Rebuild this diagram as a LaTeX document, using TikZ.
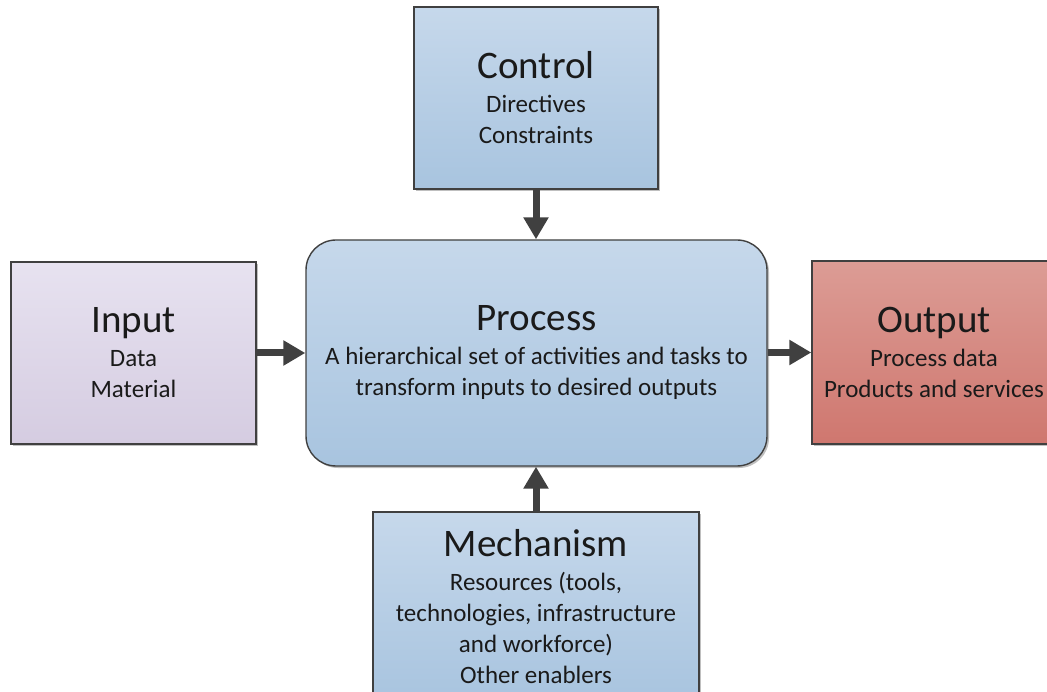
\documentclass[tikz,border=0pt]{standalone}
\usepackage{fontspec}
\setmainfont{Carlito}
\usetikzlibrary{arrows.meta,shadows}

\definecolor{blueTop}{HTML}{C6D8EB}
\definecolor{blueBot}{HTML}{A8C4DF}
\definecolor{lilacTop}{HTML}{E7E2F0}
\definecolor{lilacBot}{HTML}{D5CCE1}
\definecolor{redTop}{HTML}{DC9C95}
\definecolor{redBot}{HTML}{CF776F}
\definecolor{edge}{HTML}{404040}
\definecolor{ink}{HTML}{1A1A1A}

\newcommand{\ttl}[1]{{\fontsize{39}{39}\selectfont #1}\\[3pt]}

\tikzset{
  box/.style={draw=edge, line width=1.4pt, rectangle, align=center,
    text=ink, font=\fontsize{25}{31}\selectfont, inner sep=0pt,
    drop shadow={shadow xshift=2pt, shadow yshift=-2pt, opacity=0.25, fill=black}},
  bluebox/.style={box, top color=blueTop, bottom color=blueBot},
  lilacbox/.style={box, top color=lilacTop, bottom color=lilacBot},
  redbox/.style={box, top color=redTop, bottom color=redBot},
  flow/.style={draw=edge, line width=7pt, -{Triangle[width=24pt,length=22pt]}},
}

\begin{document}
\begin{tikzpicture}[x=1pt, y=-1pt]
  \useasboundingbox (0,0) rectangle (1047,692);
  \begin{scope}
    \clip (0,0) rectangle (1047,692);

    \node[bluebox, minimum width=244pt, minimum height=182pt] (control) at (536,98)
      {\ttl{Control}Directives\\Constraints};

    \node[bluebox, rounded corners=30pt, minimum width=461pt, minimum height=226pt] (process) at (536.5,353)
      {\ttl{Process}A hierarchical set of activities and tasks to\\transform inputs to desired outputs};

    \node[lilacbox, minimum width=245pt, minimum height=182pt] (input) at (133.5,353)
      {\ttl{Input}Data\\Material};

    \node[redbox, minimum width=244pt, minimum height=183pt] (output) at (934,352.5)
      {\ttl{Output}Process data\\Products and services};

    \node[bluebox, minimum width=326pt, minimum height=190pt] (mechanism) at (536,607)
      {\ttl{Mechanism}Resources (tools,\\technologies, infrastructure\\and workforce)\\Other enablers};

    \draw[flow] (control.south) -- (process.north -| control.south);
    \draw[flow] (input.east) -- (process.west |- input.east);
    \draw[flow] (process.east |- output.west) -- (output.west);
    \draw[flow] (mechanism.north) -- (process.south -| mechanism.north);
  \end{scope}
\end{tikzpicture}
\end{document}
